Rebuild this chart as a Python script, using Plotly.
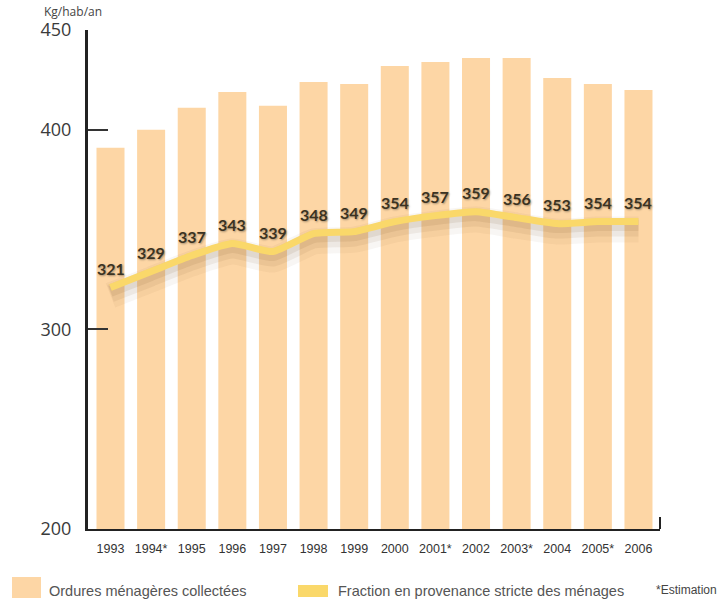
import plotly.graph_objects as go

# Household waste per inhabitant (kg/hab/an)
years = ["1993", "1994*", "1995", "1996", "1997", "1998", "1999",
         "2000", "2001*", "2002", "2003*", "2004", "2005*", "2006"]
collected = [391, 400, 411, 419, 412, 424, 423, 432, 434, 436, 436, 426, 423, 420]
households = [321, 329, 337, 343, 339, 348, 349, 354, 357, 359, 356, 353, 354, 354]

y_ticks = [200, 300, 400, 450]

BAR = "#FDD6A5"
LINE = "#FAD86A"
INK = "#333333"

W, H = 728, 603
ML, MR, MT, MB = 88, 68, 30, 74
PW, PH = W - ML - MR, H - MT - MB


def px_x(px):
    return (px - ML) / PW


def px_y(py):
    return (H - MB - py) / PH


x_idx = list(range(len(years)))

fig = go.Figure()

fig.add_trace(go.Bar(
    x=x_idx, y=collected, marker=dict(color=BAR, line=dict(width=0)),
    name="Ordures ménagères collectées", hoverinfo="skip",
))

# soft drop shadow under the household line
for width, alpha, dy in [(26, 0.05, 4), (18, 0.08, 3), (11, 0.10, 2)]:
    fig.add_trace(go.Scatter(
        x=x_idx, y=[v - dy for v in households], mode="lines",
        line=dict(color=f"rgba(120,80,40,{alpha})", width=width, shape="spline", smoothing=0.5),
        hoverinfo="skip", showlegend=False,
    ))

fig.add_trace(go.Scatter(
    x=x_idx, y=households, mode="lines",
    line=dict(color=LINE, width=7, shape="spline", smoothing=0.5),
    name="Fraction en provenance stricte des ménages", hoverinfo="skip",
))

for i, v in enumerate(households):
    fig.add_annotation(
        x=i, y=v, text=str(v), showarrow=False, yshift=19,
        font=dict(family="Lato, Open Sans, sans-serif", size=16, color="#3b3322",
                  weight="bold", shadow="1px 1px 2px rgba(0,0,0,0.35)"),
    )

# end tick on the right of the category axis
fig.add_shape(type="line", xref="x domain", yref="y domain",
              x0=1, x1=1, y0=0, y1=12 / PH, line=dict(color="#222", width=2))

# legend
fig.add_shape(type="rect", xref="paper", yref="paper",
              x0=px_x(12), x1=px_x(41), y0=px_y(598), y1=px_y(577),
              fillcolor=BAR, line=dict(width=0))
fig.add_shape(type="rect", xref="paper", yref="paper",
              x0=px_x(298), x1=px_x(328), y0=px_y(597), y1=px_y(585),
              fillcolor=LINE, line=dict(width=0))
legend_font = dict(family="Liberation Sans, Arial, sans-serif", size=14.5, color="#555555")
fig.add_annotation(xref="paper", yref="paper", x=px_x(47), y=px_y(591),
                   xanchor="left", yanchor="middle", showarrow=False,
                   text="Ordures ménagères collectées", font=legend_font)
fig.add_annotation(xref="paper", yref="paper", x=px_x(336), y=px_y(591),
                   xanchor="left", yanchor="middle", showarrow=False,
                   text="Fraction en provenance stricte des ménages", font=legend_font)
fig.add_annotation(xref="paper", yref="paper", x=px_x(654), y=px_y(590),
                   xanchor="left", yanchor="middle", showarrow=False,
                   text="*Estimation",
                   font=dict(family="Liberation Sans, Arial, sans-serif",
                             size=12, color="#444444"))

# unit label
fig.add_annotation(xref="paper", yref="paper", x=px_x(42), y=px_y(12),
                   xanchor="left", yanchor="middle", showarrow=False,
                   text="Kg/hab/an",
                   font=dict(family="Open Sans, sans-serif", size=12, color="#444444"))

fig.update_layout(
    width=W, height=H,
    margin=dict(l=ML, r=MR, t=MT, b=MB, pad=0),
    paper_bgcolor="white", plot_bgcolor="white",
    showlegend=False, bargap=0.31,
    xaxis=dict(
        range=[-0.554, 13.53], tickmode="array", tickvals=x_idx, ticktext=years,
        showgrid=False, zeroline=False, showline=True, linecolor="#222", linewidth=2,
        ticks="", ticklabelstandoff=7,
        tickfont=dict(family="Liberation Sans, Arial, sans-serif", size=12.5, color=INK),
    ),
    yaxis=dict(
        range=[200, 450], tickmode="array", tickvals=y_ticks,
        showgrid=False, zeroline=False, showline=True, linecolor="#222", linewidth=3,
        ticks="inside", ticklen=20, tickwidth=2, tickcolor="#333",
        ticklabelstandoff=10,
        tickfont=dict(family="Open Sans, sans-serif", size=18, color="#3a3a3a"),
    ),
)

fig.write_html("out.html")
